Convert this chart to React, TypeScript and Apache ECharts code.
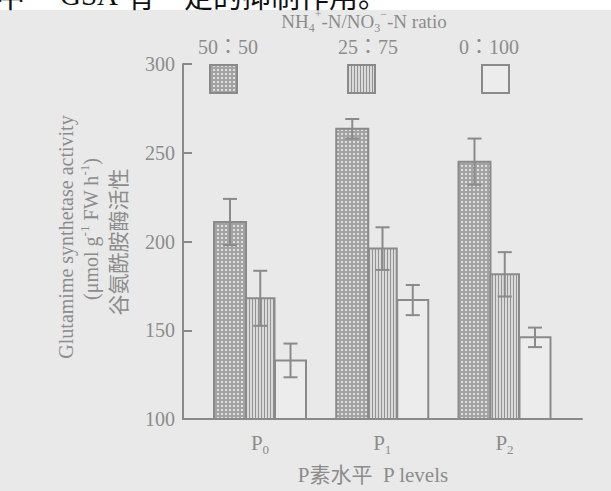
import React, { useEffect, useRef } from "react";
import * as echarts from "echarts";

// ---- data ----
const levelSubs = ["0", "1", "2"]; // P levels: P0, P1, P2
const ratioLabels = ["50：50", "25：75", "0：100"];
const mean5050 = [211, 263.5, 245];
const err5050 = [13, 5.5, 13];
const mean2575 = [168, 196, 181.5];
const err2575 = [15.5, 12, 12.5];
const mean0100 = [133, 167, 146];
const err0100 = [9.5, 8.5, 5.5];
const yMin = 100;
const yMax = 300;
const yStep = 50;

const GREY = "#8a8a8a";
const TEXT = "#8c8c8c";
const BG = "#e9e9e9";
const SERIF = "'Liberation Serif', 'Noto Sans CJK SC', serif";

function makePattern(kind: string): any {
  const c = document.createElement("canvas");
  const ctx = c.getContext("2d")!;
  if (kind === "dots") {
    c.width = 4;
    c.height = 4;
    ctx.fillStyle = "#a3a3a3";
    ctx.fillRect(0, 0, 4, 4);
    ctx.fillStyle = "#dedede";
    ctx.fillRect(1, 1, 2, 2);
  } else if (kind === "lines") {
    c.width = 3;
    c.height = 4;
    ctx.fillStyle = "#dadada";
    ctx.fillRect(0, 0, 3, 4);
    ctx.fillStyle = "#939393";
    ctx.fillRect(0, 0, 1, 4);
  } else {
    c.width = 4;
    c.height = 4;
    ctx.fillStyle = "#ececec";
    ctx.fillRect(0, 0, 4, 4);
  }
  return { image: c.toDataURL(), repeat: "repeat", imageWidth: c.width, imageHeight: c.height };
}

const BAR_SLOTS: number[][] = [
  [-46, -14],
  [-14, 14.5],
  [15, 46],
];

function barSeries(name: string, means: number[], errs: number[], slot: number[], fill: any) {
  return {
    type: "custom",
    name,
    data: means.map((m, i) => [i, m, errs[i]]),
    renderItem: (_p: any, api: any) => {
      const i = api.value(0);
      const m = api.value(1);
      const e = api.value(2);
      const base = api.coord([i, yMin]);
      const top = api.coord([i, m]);
      const hi = api.coord([i, m + e]);
      const lo = api.coord([i, m - e]);
      const x0 = base[0] + slot[0];
      const x1 = base[0] + slot[1];
      const cx = (x0 + x1) / 2;
      const ls = { stroke: GREY, lineWidth: 2 };
      return {
        type: "group",
        children: [
          {
            type: "rect",
            shape: { x: x0, y: top[1], width: x1 - x0, height: base[1] - top[1] },
            style: { fill, stroke: GREY, lineWidth: 2 },
          },
          { type: "line", shape: { x1: cx, y1: hi[1], x2: cx, y2: lo[1] }, style: ls },
          { type: "line", shape: { x1: cx - 7, y1: hi[1], x2: cx + 7, y2: hi[1] }, style: ls },
          { type: "line", shape: { x1: cx - 7, y1: lo[1], x2: cx + 7, y2: lo[1] }, style: ls },
        ],
      };
    },
  };
}

const titleRich = {
  n: { fontSize: 19, fontFamily: SERIF, fill: TEXT, lineHeight: 26, verticalAlign: "middle" },
  sub: { fontSize: 12, fontFamily: SERIF, fill: TEXT, lineHeight: 10, verticalAlign: "bottom" },
  sup: { fontSize: 12, fontFamily: SERIF, fill: TEXT, lineHeight: 10, verticalAlign: "top" },
};

const centered = {
  align: "center",
  verticalAlign: "middle",
  textAlign: "center",
  textVerticalAlign: "middle",
};

export default function App() {
  const ref = useRef<HTMLDivElement>(null);
  useEffect(() => {
    if (!ref.current) return;
    const chart = echarts.init(ref.current, undefined, { renderer: "svg" });
    const pDots = makePattern("dots");
    const pLines = makePattern("lines");
    const pPlain = makePattern("plain");
    const fills = [pDots, pLines, pPlain];
    const legendX = [210, 348, 482];
    const ratioX = [228, 368, 489];

    const blackText = (text: string, x: number, fam: string) => ({
      type: "text",
      x,
      y: 9,
      z: 11,
      style: {
        text,
        fill: "#111111",
        fontSize: 29,
        fontFamily: fam,
        align: "left",
        verticalAlign: "bottom",
        textAlign: "left",
        textVerticalAlign: "bottom",
      },
    });

    const option: any = {
      animation: false,
      backgroundColor: BG,
      grid: { left: 183, right: 29, top: 64, bottom: 72, containLabel: false },
      xAxis: {
        type: "value",
        min: -0.63,
        max: 2.634,
        axisLine: { show: true, onZero: false, lineStyle: { color: GREY, width: 2 } },
        axisTick: { show: false },
        axisLabel: { show: false },
        splitLine: { show: false },
      },
      yAxis: {
        type: "value",
        min: yMin,
        max: yMax,
        interval: yStep,
        axisLine: { show: true, onZero: false, lineStyle: { color: GREY, width: 2 } },
        axisTick: { show: true, inside: true, length: 9, lineStyle: { color: GREY, width: 2 } },
        axisLabel: { color: TEXT, fontFamily: SERIF, fontSize: 20, margin: 8 },
        splitLine: { show: false },
      },
      series: [
        barSeries(ratioLabels[0], mean5050, err5050, BAR_SLOTS[0], pDots),
        barSeries(ratioLabels[1], mean2575, err2575, BAR_SLOTS[1], pLines),
        barSeries(ratioLabels[2], mean0100, err0100, BAR_SLOTS[2], pPlain),
        {
          type: "custom",
          name: "levels",
          data: levelSubs.map((_s, i) => [i]),
          renderItem: (p: any, api: any) => {
            const c = api.coord([api.value(0), yMin]);
            return {
              type: "text",
              x: c[0],
              y: c[1] + 24,
              style: {
                text: `{p|P}{s|${levelSubs[p.dataIndex]}}`,
                rich: {
                  p: { fontSize: 21, fontFamily: SERIF, fill: TEXT, lineHeight: 26, verticalAlign: "middle" },
                  s: { fontSize: 13, fontFamily: SERIF, fill: TEXT, lineHeight: 10, verticalAlign: "bottom" },
                },
                ...centered,
              },
            };
          },
        },
      ],
      graphic: [
        { type: "rect", shape: { x: 0, y: 0, width: 611, height: 10 }, style: { fill: "#ffffff" }, z: 10 },
        blackText("中", -4, "'Noto Sans CJK SC', sans-serif"),
        blackText("GSA", 60, "'Liberation Serif', serif"),
        blackText("有一定的抑制作用。", 126, "'Noto Sans CJK SC', sans-serif"),
        {
          type: "text",
          x: 364,
          y: 21,
          style: {
            text: "{n|NH}{sub|4}{sup|+}{n|-N/NO}{sub|3}{sup|−}{n|-N ratio}",
            rich: titleRich,
            ...centered,
          },
        },
        ...ratioLabels.map((r, k) => ({
          type: "text",
          x: ratioX[k],
          y: 47,
          style: {
            text: r,
            fill: TEXT,
            fontSize: 20,
            fontFamily: "'Liberation Serif', 'Noto Sans CJK TC', serif",
            ...centered,
          },
        })),
        ...ratioLabels.map((_r, k) => ({
          type: "rect",
          shape: { x: legendX[k], y: 65, width: 27, height: 28 },
          style: { fill: fills[k], stroke: GREY, lineWidth: 2 },
        })),
        {
          type: "text",
          x: 66,
          y: 237,
          rotation: Math.PI / 2,
          style: {
            text: "Glutamime synthetase activity",
            fill: TEXT,
            fontSize: 20,
            fontFamily: SERIF,
            ...centered,
          },
        },
        {
          type: "text",
          x: 91,
          y: 229,
          rotation: Math.PI / 2,
          style: {
            text: "{n|(μmol g}{sup|-1}{n| FW h}{sup|-1}{n|)}",
            rich: {
              n: { fontSize: 20, fontFamily: SERIF, fill: TEXT, lineHeight: 26, verticalAlign: "middle" },
              sup: { fontSize: 13, fontFamily: SERIF, fill: TEXT, lineHeight: 10, verticalAlign: "top" },
            },
            ...centered,
          },
        },
        {
          type: "text",
          x: 119,
          y: 242,
          rotation: Math.PI / 2,
          style: {
            text: "谷氨酰胺酶活性",
            fill: TEXT,
            fontSize: 21,
            fontFamily: SERIF,
            ...centered,
          },
        },
        {
          type: "text",
          x: 373,
          y: 475,
          style: {
            text: "P素水平  P levels",
            fill: TEXT,
            fontSize: 21,
            fontFamily: SERIF,
            ...centered,
          },
        },
      ],
    };
    chart.setOption(option);
    return () => chart.dispose();
  }, []);
  return (
    <div
      ref={ref}
      style={{ position: "fixed", left: 0, top: 0, width: 611, height: 491 }}
    />
  );
}
